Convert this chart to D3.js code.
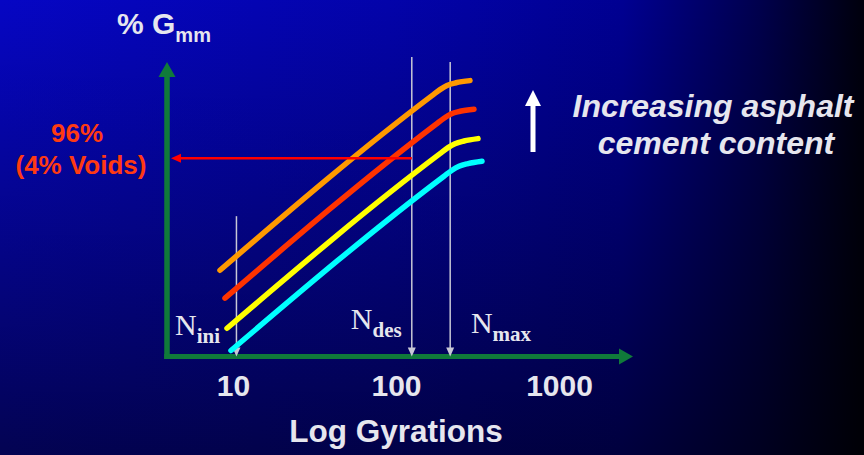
<!DOCTYPE html>
<html>
<head>
<meta charset="utf-8">
<script src="https://cdn.jsdelivr.net/npm/d3@7"></script>
<style>
  html, body { margin: 0; padding: 0; background: #000; }
  svg { display: block; }
</style>
</head>
<body>
<div id="chart"></div>
<script>
// gyrations (log) vs % Gmm, one array per asphalt content (low -> high)
const xTicks = [10, 100, 1000]
const cyanSeries   = [[9.72, 89.60], [197.0, 95.40], [220.6, 95.60], [243.5, 95.73], [276.6, 95.82], [337.0, 95.90]]
const yellowSeries = [[9.19, 90.34], [186.2, 96.15], [208.5, 96.35], [230.1, 96.48], [261.4, 96.57], [318.5, 96.65]]
const redSeries    = [[8.93, 91.34], [176.0, 97.13], [197.0, 97.33], [217.5, 97.47], [247.0, 97.56], [301.0, 97.63]]
const orangeSeries = [[8.32, 92.27], [166.3, 98.08], [186.2, 98.28], [205.6, 98.42], [233.4, 98.51], [284.4, 98.58]]
const seriesColors = ["#00ffff", "#ffff00", "#ff3300", "#ff9900"]

const markerNames = ["ini", "des", "max"]
const markerGyrations = [10.5, 125, 215]
const markerTops = [94.07, 99.37, 99.2]

const targetPct = 96

const width = 864
const height = 455
const plotLeft = 167, plotRight = 633, plotTop = 62, plotBottom = 356.5

const svg = d3.select("#chart")
  .append("svg")
  .attr("width", width)
  .attr("height", height)

// background
const defs = svg.append("defs")
const hGrad = defs.append("linearGradient").attr("id", "bgH")
  .attr("x1", 0).attr("y1", 0).attr("x2", 1).attr("y2", 0)
;[[0, "#0606c4"], [0.45, "#0303aa"], [0.72, "#000092"], [0.88, "#00004c"], [1, "#00000c"]]
  .forEach(([o, c]) => hGrad.append("stop").attr("offset", o).attr("stop-color", c))
const vGrad = defs.append("linearGradient").attr("id", "bgV")
  .attr("x1", 0).attr("y1", 0).attr("x2", 0).attr("y2", 1)
vGrad.append("stop").attr("offset", 0).attr("stop-color", "#000").attr("stop-opacity", 0)
vGrad.append("stop").attr("offset", 1).attr("stop-color", "#000").attr("stop-opacity", 0.58)

svg.append("rect").attr("width", width).attr("height", height).attr("fill", "url(#bgH)")
svg.append("rect").attr("width", width).attr("height", height).attr("fill", "url(#bgV)")

const x = d3.scaleLog().domain([10, 1000]).range([233, 559])
const y = d3.scaleLinear().domain([89.4, 99.2]).range([plotBottom, plotTop])

const green = "#107a3a"
const light = "#e6e6ee"

// axes (green, with arrow heads)
svg.append("line")
  .attr("x1", plotLeft).attr("y1", plotBottom + 2.5).attr("x2", plotLeft).attr("y2", plotTop + 12)
  .attr("stroke", green).attr("stroke-width", 5.5)
svg.append("path")
  .attr("d", `M${plotLeft},${plotTop} L${plotLeft - 8.5},${plotTop + 15} L${plotLeft + 8.5},${plotTop + 15} Z`)
  .attr("fill", green)
svg.append("line")
  .attr("x1", plotLeft - 2.75).attr("y1", plotBottom).attr("x2", plotRight - 10).attr("y2", plotBottom)
  .attr("stroke", green).attr("stroke-width", 5)
svg.append("path")
  .attr("d", `M${plotRight},${plotBottom} L${plotRight - 14},${plotBottom - 8} L${plotRight - 14},${plotBottom + 8} Z`)
  .attr("fill", green)

// tick labels
const xAxis = svg.append("g")
  .attr("transform", `translate(0,${plotBottom})`)
  .call(d3.axisBottom(x).tickValues(xTicks).tickFormat(d3.format("d")).tickSize(0).tickPadding(18))
xAxis.select(".domain").remove()
xAxis.selectAll("text")
  .attr("fill", light)
  .attr("font-family", "Liberation Sans, Arial, sans-serif")
  .attr("font-weight", "700")
  .attr("font-size", "30px")

// axis titles
svg.append("text")
  .attr("x", (x(10) + x(1000)) / 2).attr("y", 442)
  .attr("text-anchor", "middle")
  .attr("fill", light)
  .attr("font-family", "Liberation Sans, Arial, sans-serif")
  .attr("font-weight", "700").attr("font-size", "31.5px")
  .text("Log Gyrations")

const yTitle = svg.append("text")
  .attr("x", 117).attr("y", 34)
  .attr("fill", light)
  .attr("font-family", "Liberation Sans, Arial, sans-serif")
  .attr("font-weight", "700").attr("font-size", "30px")
yTitle.append("tspan").text("% G")
yTitle.append("tspan").attr("dy", 8).attr("font-size", "20px").text("mm")

// gyration markers (thin down arrows)
const markerColor = "#c8c8d6"
const labelOffsets = [[-61.5, 335], [-61, 329], [20.7, 333]]
markerNames.forEach((name, i) => {
  const mx = x(markerGyrations[i])
  svg.append("line")
    .attr("x1", mx).attr("y1", y(markerTops[i]))
    .attr("x2", mx).attr("y2", plotBottom - 6)
    .attr("stroke", markerColor).attr("stroke-width", 1.5)
  svg.append("path")
    .attr("d", `M${mx},${plotBottom} L${mx - 4},${plotBottom - 9} L${mx + 4},${plotBottom - 9} Z`)
    .attr("fill", markerColor)

  const lbl = svg.append("text")
    .attr("x", mx + labelOffsets[i][0]).attr("y", labelOffsets[i][1])
    .attr("fill", light)
    .attr("font-family", "Liberation Serif, Times New Roman, serif")
  lbl.append("tspan").attr("font-size", "30px").text("N")
  lbl.append("tspan").attr("dy", 8).attr("font-size", "21px").attr("font-weight", "700").text(name)
})

// compaction curves
const line = d3.line()
  .x(d => x(d[0]))
  .y(d => y(d[1]))
  .curve(d3.curveMonotoneX)

;[cyanSeries, yellowSeries, redSeries, orangeSeries].forEach((s, i) => {
  svg.append("path")
    .attr("d", line(s))
    .attr("fill", "none")
    .attr("stroke", seriesColors[i])
    .attr("stroke-width", 5.5)
    .attr("stroke-linejoin", "round")
    .attr("stroke-linecap", "round")
})

// 96% target arrow from N des back to the y axis
const ty = y(targetPct)
const tipX = plotLeft + 4
svg.append("line")
  .attr("x1", x(markerGyrations[1])).attr("y1", ty)
  .attr("x2", tipX + 8).attr("y2", ty)
  .attr("stroke", "#ff0000").attr("stroke-width", 2.5)
svg.append("path")
  .attr("d", `M${tipX},${ty} L${tipX + 10},${ty - 4.5} L${tipX + 10},${ty + 4.5} Z`)
  .attr("fill", "#ff0000")

const tLabel = svg.append("g")
  .attr("fill", "#ff3a12")
  .attr("font-family", "Liberation Sans, Arial, sans-serif")
  .attr("font-weight", "700").attr("font-size", "26px")
  .attr("text-anchor", "middle")
tLabel.append("text").attr("x", 77).attr("y", 142).text(`${targetPct}%`)
tLabel.append("text").attr("x", 81).attr("y", 174).text(`(${100 - targetPct}% Voids)`)

// "increasing asphalt cement content" note
svg.append("rect")
  .attr("x", 530.5).attr("y", 104).attr("width", 5).attr("height", 48)
  .attr("fill", "#ffffff")
svg.append("path")
  .attr("d", "M533,90 L525,106 L541,106 Z")
  .attr("fill", "#ffffff")

const note = svg.append("g")
  .attr("fill", light)
  .attr("font-family", "Liberation Sans, Arial, sans-serif")
  .attr("font-weight", "700").attr("font-style", "italic")
  .attr("font-size", "32px")
  .attr("text-anchor", "middle")
note.append("text").attr("x", 713).attr("y", 117).text("Increasing asphalt")
note.append("text").attr("x", 716).attr("y", 154).text("cement content")
</script>
</body>
</html>
